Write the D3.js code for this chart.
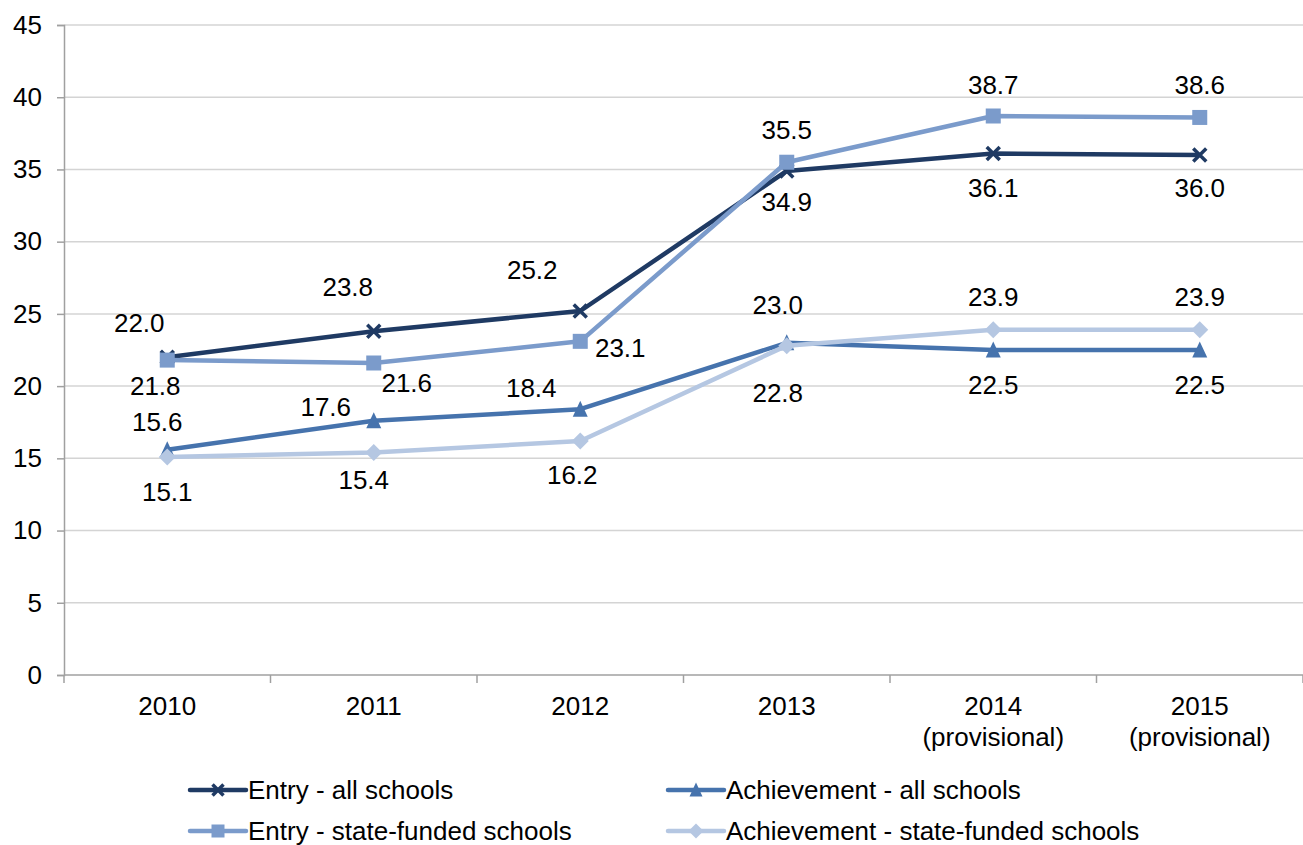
<!DOCTYPE html>
<html>
<head>
<meta charset="utf-8">
<script src="https://cdn.jsdelivr.net/npm/d3@7"></script>
<style>
  body { margin: 0; background: #fff; }
  text { font-family: "Liberation Sans", Arial, sans-serif; fill: #000; }
</style>
</head>
<body>
<div id="chart"></div>
<script>
// data
var years = ["2010", "2011", "2012", "2013", "2014", "2015"];
var yearNotes = ["", "", "", "", "(provisional)", "(provisional)"];
var seriesNames = ["Entry - all schools", "Achievement - all schools", "Entry - state-funded schools", "Achievement - state-funded schools"];
var entryAll = [22.0, 23.8, 25.2, 34.9, 36.1, 36.0];
var achieveAll = [15.6, 17.6, 18.4, 23.0, 22.5, 22.5];
var entryState = [21.8, 21.6, 23.1, 35.5, 38.7, 38.6];
var achieveState = [15.1, 15.4, 16.2, 22.8, 23.9, 23.9];
var yTicks = [0, 5, 10, 15, 20, 25, 30, 35, 40, 45];

// label nudges (px), per series, to match the hand placed labels
var labelDx = [[-28, -26, -48, 0, 0, 0], [-10, -48, -49, -9, 0, 0], [-12, 33, 40, 0, 0, 0], [0, -10, -8, -9, 0, 0]];
var labelDy = [[-34, -44, -41, 31, 34, 33], [-28, -14, -21, -38, 35, 35], [26, 20, 7, -32, -31, -32], [35, 27, 34, 47, -33, -33]];

var colors = ["#1f3a63", "#4673ad", "#7b9bcb", "#b5c7e2"];
var symbols = ["cross", "triangle", "square", "diamond"];
var fontSize = 26;

var svgWidth = 1303, svgHeight = 845;
var margin = {top: 25, right: 0, bottom: 170, left: 64};
var width = svgWidth - margin.left - margin.right;
var height = svgHeight - margin.top - margin.bottom;

var svg = d3.select("#chart").append("svg")
  .attr("width", svgWidth)
  .attr("height", svgHeight);

var chartGroup = svg.append("g")
  .attr("transform", `translate(${margin.left}, ${margin.top})`);

var xScale = d3.scaleBand().domain(years).range([0, width]).padding(0);
var yScale = d3.scaleLinear().domain([0, 45]).range([height, 0]);
var xc = d => xScale(d) + xScale.bandwidth() / 2;

// gridlines
chartGroup.selectAll(".grid")
  .data(yTicks.filter(t => t > 0))
  .enter().append("line")
  .attr("x1", 0).attr("x2", width)
  .attr("y1", d => yScale(d)).attr("y2", d => yScale(d))
  .attr("stroke", "#d4d4d4").attr("stroke-width", 1.5);

// y axis
var leftAxis = d3.axisLeft(yScale).tickValues(yTicks).tickSize(7).tickPadding(15);
var yAxisG = chartGroup.append("g").call(leftAxis);
yAxisG.select(".domain").attr("stroke", "#a0a0a0").attr("stroke-width", 1.5);
yAxisG.selectAll(".tick line").attr("stroke", "#a0a0a0").attr("stroke-width", 1.5);
yAxisG.selectAll("text").attr("font-size", fontSize).attr("font-family", "Liberation Sans, Arial, sans-serif").attr("fill", "#000");

// x axis: ticks between categories
var xAxisG = chartGroup.append("g").attr("transform", `translate(0, ${height})`);
xAxisG.append("line").attr("x1", 0).attr("x2", width).attr("stroke", "#a0a0a0").attr("stroke-width", 1.5);
var bounds = years.map(d => xScale(d)).concat([width]);
xAxisG.selectAll(".xt").data(bounds).enter().append("line")
  .attr("x1", d => d).attr("x2", d => d)
  .attr("y1", 0).attr("y2", 8)
  .attr("stroke", "#a0a0a0").attr("stroke-width", 1.5);
xAxisG.selectAll(".yl").data(years).enter().append("text")
  .attr("x", d => xc(d)).attr("y", 31)
  .attr("text-anchor", "middle").attr("dominant-baseline", "central")
  .attr("font-size", fontSize)
  .text(d => d);
xAxisG.selectAll(".yn").data(years).enter().append("text")
  .attr("x", d => xc(d)).attr("y", 62)
  .attr("text-anchor", "middle").attr("dominant-baseline", "central")
  .attr("font-size", fontSize)
  .text((d, i) => yearNotes[i]);

var allSeries = [entryAll, achieveAll, entryState, achieveState];

function marker(g, type, color, size) {
  if (type === "cross") {
    var s = size / 2;
    g.append("path").attr("d", `M${-s},${-s}L${s},${s}M${-s},${s}L${s},${-s}`)
      .attr("stroke", color).attr("stroke-width", 3.5).attr("fill", "none");
  } else if (type === "square") {
    g.append("rect").attr("x", -size / 2 - 1).attr("y", -size / 2 - 1)
      .attr("width", size + 2).attr("height", size + 2).attr("fill", color);
  } else if (type === "triangle") {
    var t = size / 2 + 1;
    g.append("path").attr("d", `M0,${-t - 1}L${t},${t}L${-t},${t}Z`).attr("fill", color);
  } else {
    var r = size / 2 + 2;
    g.append("path").attr("d", `M0,${-r}L${r},0L0,${r}L${-r},0Z`).attr("fill", color);
  }
}

var line = d3.line()
  .x((d, i) => xc(years[i]))
  .y(d => yScale(d));

allSeries.forEach(function(vals, si) {
  chartGroup.append("path")
    .datum(vals)
    .attr("d", line)
    .attr("fill", "none")
    .attr("stroke", colors[si])
    .attr("stroke-width", 4.5)
    .attr("stroke-linejoin", "round");

  vals.forEach(function(v, i) {
    var g = chartGroup.append("g")
      .attr("transform", `translate(${xc(years[i])}, ${yScale(v)})`);
    marker(g, symbols[si], colors[si], 13);
  });
});

// data labels
allSeries.forEach(function(vals, si) {
  chartGroup.selectAll(".lbl" + si)
    .data(vals)
    .enter().append("text")
    .attr("x", (d, i) => xc(years[i]) + labelDx[si][i])
    .attr("y", (d, i) => yScale(d) + labelDy[si][i])
    .attr("text-anchor", "middle")
    .attr("dominant-baseline", "central")
    .attr("font-size", fontSize)
    .text(d => d.toFixed(1));
});

// legend, two columns
var legendX = [190, 668];
var legendY = [790, 831];
seriesNames.forEach(function(name, i) {
  var lx = legendX[i % 2], ly = legendY[Math.floor(i / 2)];
  var g = svg.append("g");
  g.append("line")
    .attr("x1", lx).attr("x2", lx + 56)
    .attr("y1", ly).attr("y2", ly)
    .attr("stroke", colors[i]).attr("stroke-width", 4.5)
    .attr("stroke-linecap", "round");
  var m = g.append("g").attr("transform", `translate(${lx + 28}, ${ly})`);
  marker(m, symbols[i], colors[i], 11);
  g.append("text")
    .attr("x", lx + 58).attr("y", ly)
    .attr("dominant-baseline", "central")
    .attr("font-size", fontSize)
    .text(name);
});
</script>
</body>
</html>
